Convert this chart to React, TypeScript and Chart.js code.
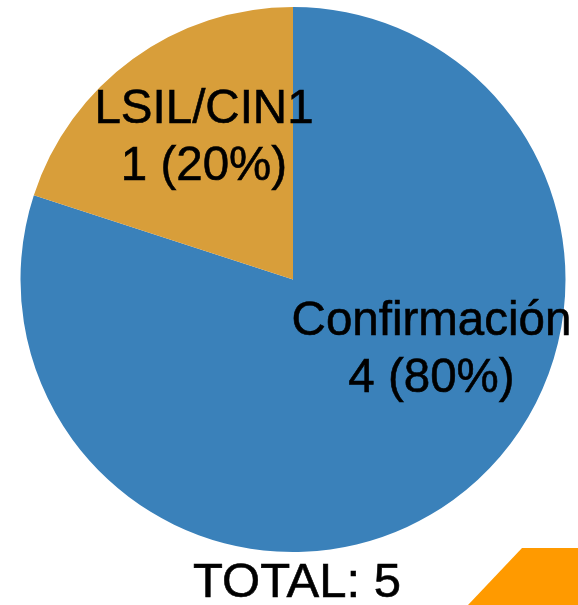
import React, { useEffect, useRef } from "react";
import { Chart, registerables } from "chart.js";

Chart.register(...registerables);

const categories = ["Confirmación", "LSIL/CIN1"];
const values = [4, 1];
const colors = ["#3a81ba", "#d89e3a"];
const totalLabel = "TOTAL: ";

const labelOffsets = [
  { dx: 138.5, dy: 55.5 },
  { dx: -89, dy: -156.5 },
];

const FONT = "Liberation Sans, Arial, sans-serif";

function drawText(ctx: CanvasRenderingContext2D, text: string, x: number, y: number) {
  ctx.fillText(text, x, y);
  ctx.strokeText(text, x, y);
}

const labelsPlugin = {
  id: "customLabels",
  afterDraw(chart: any) {
    const ctx = chart.ctx;
    const meta = chart.getDatasetMeta(0);
    const total = values.reduce((a, b) => a + b, 0);
    ctx.save();
    ctx.fillStyle = "#000";
    ctx.strokeStyle = "#000";
    ctx.lineWidth = 0.6;
    ctx.textAlign = "center";
    ctx.textBaseline = "alphabetic";
    meta.data.forEach((arc: any, i: number) => {
      const x = arc.x + labelOffsets[i].dx;
      const y = arc.y + labelOffsets[i].dy;
      const pct = Math.round((values[i] / total) * 100);
      ctx.font = `47.5px ${FONT}`;
      drawText(ctx, categories[i], x, y);
      drawText(ctx, `${values[i]} (${pct}%)`, x, y + 57);
    });
    const arc0 = meta.data[0];
    ctx.font = `49px ${FONT}`;
    drawText(ctx, totalLabel + total, arc0.x + 4, 597);
    const W = chart.width;
    const H = chart.height;
    ctx.fillStyle = "#ff9a00";
    ctx.beginPath();
    ctx.moveTo(W - 56, H - 57);
    ctx.lineTo(W, H - 57);
    ctx.lineTo(W, H);
    ctx.lineTo(W - 110, H);
    ctx.closePath();
    ctx.fill();
    ctx.restore();
  },
};

export default function App() {
  const ref = useRef<HTMLCanvasElement>(null);
  useEffect(() => {
    if (!ref.current) return;
    const chart = new Chart(ref.current, {
      type: "pie",
      data: {
        labels: categories,
        datasets: [
          {
            data: values,
            backgroundColor: colors,
            borderWidth: 0,
          },
        ],
      },
      options: {
        animation: false,
        responsive: false,
        devicePixelRatio: 1,
        layout: { padding: { left: 20.5, right: 12.5, top: 7, bottom: 53 } },
        plugins: {
          legend: { display: false },
          tooltip: { enabled: false },
          title: { display: false },
        },
      },
      plugins: [labelsPlugin],
    });
    return () => chart.destroy();
  }, []);
  return (
    <div style={{ position: "absolute", left: 0, top: 0, width: 578, height: 605, background: "#fff" }}>
      <canvas ref={ref} width={578} height={605} style={{ display: "block" }} />
    </div>
  );
}
